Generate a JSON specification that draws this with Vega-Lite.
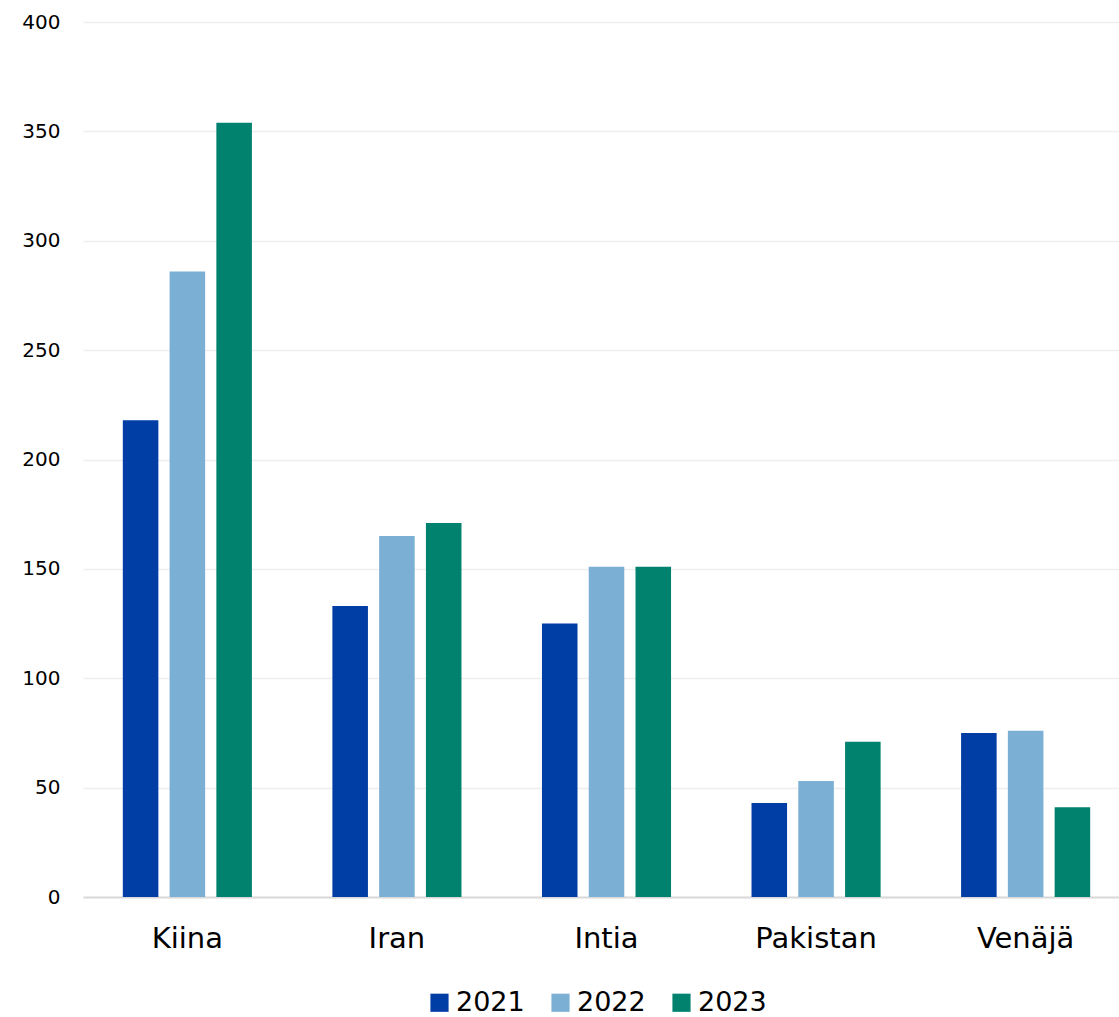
{
  "$schema": "https://vega.github.io/schema/vega-lite/v6.json",
  "width": 1047,
  "height": 875,
  "autosize": {"type": "none"},
  "padding": {"left": 83, "top": 22, "right": 0, "bottom": 120},
  "background": "white",
  "config": {
    "font": "DejaVu Sans",
    "view": {"stroke": null}
  },
  "data": {
    "values": [
      {"maa": "Kiina", "vuosi": "2021", "arvo": 218},
      {"maa": "Kiina", "vuosi": "2022", "arvo": 286},
      {"maa": "Kiina", "vuosi": "2023", "arvo": 354},
      {"maa": "Iran", "vuosi": "2021", "arvo": 133},
      {"maa": "Iran", "vuosi": "2022", "arvo": 165},
      {"maa": "Iran", "vuosi": "2023", "arvo": 171},
      {"maa": "Intia", "vuosi": "2021", "arvo": 125},
      {"maa": "Intia", "vuosi": "2022", "arvo": 151},
      {"maa": "Intia", "vuosi": "2023", "arvo": 151},
      {"maa": "Pakistan", "vuosi": "2021", "arvo": 43},
      {"maa": "Pakistan", "vuosi": "2022", "arvo": 53},
      {"maa": "Pakistan", "vuosi": "2023", "arvo": 71},
      {"maa": "Venäjä", "vuosi": "2021", "arvo": 75},
      {"maa": "Venäjä", "vuosi": "2022", "arvo": 76},
      {"maa": "Venäjä", "vuosi": "2023", "arvo": 41}
    ]
  },
  "mark": {"type": "bar"},
  "encoding": {
    "x": {
      "field": "maa",
      "type": "nominal",
      "sort": ["Kiina", "Iran", "Intia", "Pakistan", "Venäjä"],
      "scale": {"paddingInner": 0.384, "paddingOuter": 0.19},
      "axis": {
        "title": null,
        "labelAngle": 0,
        "labelFontSize": 29,
        "labelColor": "#000000",
        "labelPadding": 27,
        "ticks": false,
        "domainColor": "#d9d9d9",
        "domainWidth": 2,
        "grid": false
      }
    },
    "xOffset": {
      "field": "vuosi",
      "type": "nominal",
      "scale": {"paddingInner": 0.24, "paddingOuter": 0}
    },
    "y": {
      "field": "arvo",
      "type": "quantitative",
      "scale": {"domain": [0, 400]},
      "axis": {
        "title": null,
        "values": [0, 50, 100, 150, 200, 250, 300, 350, 400],
        "labelFontSize": 20,
        "labelColor": "#000000",
        "labelPadding": 23,
        "ticks": false,
        "domain": false,
        "gridColor": "#eeeeee",
        "gridWidth": 1.5
      }
    },
    "color": {
      "field": "vuosi",
      "type": "nominal",
      "scale": {"domain": ["2021", "2022", "2023"], "range": ["#003da5", "#7bafd4", "#00826e"]},
      "legend": {
        "title": null,
        "orient": "none",
        "direction": "horizontal",
        "legendX": 343,
        "legendY": 967,
        "symbolType": "square",
        "symbolSize": 330,
        "symbolStrokeWidth": 0,
        "labelFontSize": 27,
        "labelColor": "#000000",
        "columnPadding": 22,
        "labelOffset": 3
      }
    }
  }
}
